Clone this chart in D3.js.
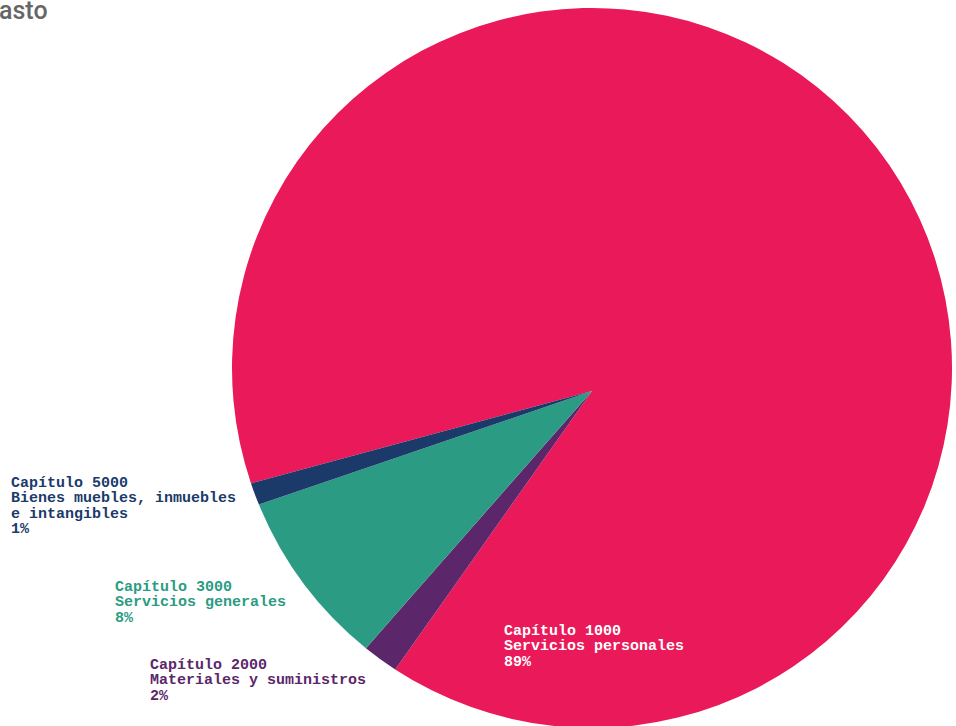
<!DOCTYPE html>
<html>
<head>
<meta charset="utf-8">
<script src="https://cdn.jsdelivr.net/npm/d3@7"></script>
<style>
  html, body { margin: 0; padding: 0; background: #ffffff; overflow: hidden; }
  svg { display: block; }
</style>
</head>
<body>
<svg id="chart" width="956" height="726"></svg>
<script>
// ---- data ----
const titleText = "Gasto";
const categories = ["Capítulo 1000", "Capítulo 2000", "Capítulo 3000", "Capítulo 5000"];
const descriptions = [["Servicios personales"], ["Materiales y suministros"], ["Servicios generales"], ["Bienes muebles, inmuebles", "e intangibles"]];
const values = [89.4, 1.6, 8.0, 1.0];
const percentLabels = ["89%", "2%", "8%", "1%"];
const colors = ["#E9195A", "#5C266A", "#2B9B83", "#1B3A6A"];
const labelColors = ["#ffffff", "#5C266A", "#2B9B83", "#1B3A6A"];

// ---- layout ----
const svg = d3.select("#chart");
const cx = 592, cy = 368, r = 360;      // circle of the outer arc
const ax = 592, ay = 391;               // point where slices meet
const startDeg = 251.3;

const pie = d3.pie().sort(null).value(d => d)
  .startAngle(startDeg * Math.PI / 180)
  .endAngle((startDeg + 360) * Math.PI / 180);
const arcs = pie(values);

function slicePath(d) {
  const p = d3.path();
  const a0 = d.startAngle, a1 = d.endAngle;
  p.moveTo(ax, ay);
  p.lineTo(cx + r * Math.sin(a0), cy - r * Math.cos(a0));
  p.arc(cx, cy, r, a0 - Math.PI / 2, a1 - Math.PI / 2, false);
  p.closePath();
  return p.toString();
}

svg.append("g").selectAll("path")
  .data(arcs)
  .enter().append("path")
  .attr("d", slicePath)
  .attr("fill", (d, i) => colors[i]);

// ---- labels ----
const labelPos = [
  { x: 504, y: 635 },
  { x: 150, y: 669 },
  { x: 115, y: 591 },
  { x: 11, y: 487 }
];
const lineH = 15.4;
const lg = svg.append("g")
  .attr("font-family", "'Liberation Mono', 'DejaVu Sans Mono', monospace")
  .attr("font-size", 15)
  .attr("font-weight", "bold");
categories.forEach((c, i) => {
  const lines = [c].concat(descriptions[i]).concat([percentLabels[i]]);
  const t = lg.append("text")
    .attr("x", labelPos[i].x)
    .attr("y", labelPos[i].y)
    .attr("fill", labelColors[i]);
  lines.forEach((ln, j) => {
    t.append("tspan").attr("x", labelPos[i].x).attr("y", labelPos[i].y + j * lineH).text(ln);
  });
});

// ---- title (partly cut off at the left edge, as in the reference) ----
const title = svg.append("text")
  .attr("y", 19)
  .attr("font-family", "Roboto, 'Noto Sans', sans-serif")
  .attr("font-size", 25)
  .attr("font-weight", 500)
  .attr("fill", "#666666")
  .text(titleText);
const gTmp = svg.append("text")
  .attr("font-family", "Roboto, 'Noto Sans', sans-serif")
  .attr("font-size", 25).attr("font-weight", 500).text(titleText[0]);
const gW = gTmp.node().getComputedTextLength();
gTmp.remove();
title.attr("x", -gW - 1);
</script>
</body>
</html>
